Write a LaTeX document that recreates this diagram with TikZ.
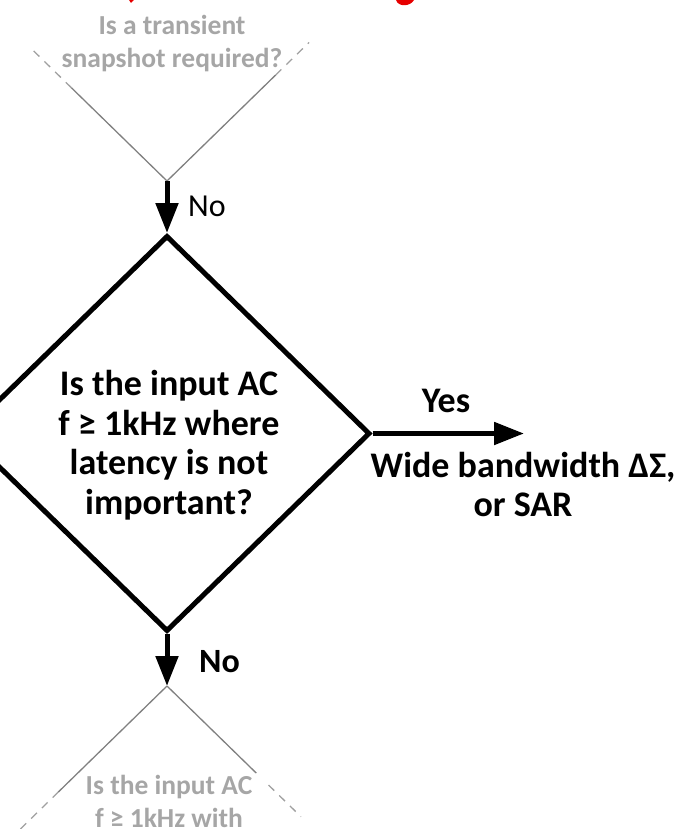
\documentclass[tikz,border=0pt]{standalone}
\usepackage{fontspec}
\setmainfont{Carlito}
\usetikzlibrary{shapes.geometric,arrows.meta,calc}
\definecolor{graytxt}{RGB}{166,166,166}
\definecolor{grayln}{RGB}{128,128,128}
\definecolor{titlered}{RGB}{230,0,0}
\begin{document}
\begin{tikzpicture}[x=1pt,y=-1pt,
  maintext/.style={font=\fontsize{36}{39.5}\selectfont\bfseries, align=center, inner sep=0pt},
  graytext/.style={font=\fontsize{27.5}{33}\selectfont\bfseries, text=graytxt, align=center, inner sep=0pt},
  arr/.style={line width=5pt, -{Triangle[length=30pt,width=22pt]}},
  partline/.style={grayln, line width=1.3pt},
  dashline/.style={grayln!75, line width=1.3pt, dash pattern=on 8pt off 7pt},
  decision/.style={draw, diamond, line width=5pt, miter limit=20, inner sep=0pt, minimum width=406pt, minimum height=396pt}
]
\useasboundingbox (0,0) rectangle (682,829);
\clip (0,0) rectangle (682,829);
% cut-off red title fragments
\fill[titlered] (396,0) .. controls (398,7) and (410,7) .. (414,0) -- cycle;
\fill[titlered] (129,0) -- (134,0) -- (131,3) -- cycle;

% previous (faded) decision
\node[graytext] (prevtxt) at (172,44) {Is a transient\\snapshot required?};
\coordinate (pv) at (167,181);
\coordinate (pl) at (-36,-17);
\coordinate (pr) at (370,-17);
\draw[partline] (pv) -- ($(pv)!0.47!(pl)$);
\draw[dashline] ($(pv)!0.47!(pl)$) -- ($(pv)!0.66!(pl)$);
\draw[partline] (pv) -- ($(pv)!0.535!(pr)$);
\draw[dashline] ($(pv)!0.535!(pr)$) -- ($(pv)!0.70!(pr)$);

% main decision
\node[decision] (q) at (167,433.5) {};
\node[maintext] (qtxt) at (169,445) {Is the input AC\\f ≥ 1kHz where\\latency is not\\important?};

\draw[arr] (pv) -- (q.north);
\node[font=\fontsize{32}{36}\selectfont, anchor=base west, inner sep=0pt] (no1) at (188,216) {No};

% yes branch
\coordinate (yend) at (524,433.5);
\draw[arr] (q.east) -- (yend);
\node[maintext, anchor=base] (yes) at (446,412) {Yes};
\node[maintext] (res) at (523,484.5) {Wide bandwidth ΔΣ,\\or SAR};

% next (faded) decision
\coordinate (nv) at (167,686);
\coordinate (nl) at (-36,884);
\coordinate (nr) at (370,884);
\draw[arr] (q.south) -- (nv);
\node[font=\fontsize{34}{38}\selectfont\bfseries, anchor=base west, inner sep=0pt] (no2) at (199,672) {No};
\draw[partline] (nv) -- ($(nv)!0.535!(nl)$);
\draw[dashline] ($(nv)!0.535!(nl)$) -- ($(nv)!0.76!(nl)$);
\draw[partline] (nv) -- ($(nv)!0.44!(nr)$);
\draw[dashline] ($(nv)!0.50!(nr)$) -- ($(nv)!0.66!(nr)$);
\node[graytext] (nexttxt) at (169,801) {Is the input AC\\f ≥ 1kHz with};
\end{tikzpicture}
\end{document}
